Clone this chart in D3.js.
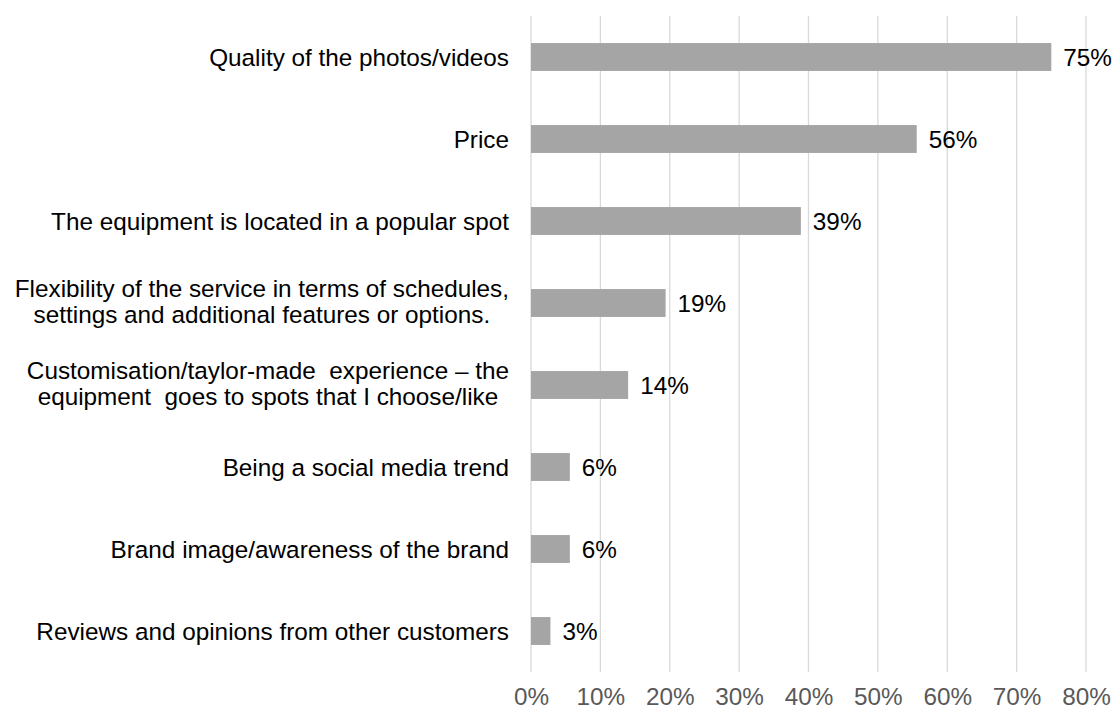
<!DOCTYPE html>
<html>
<head>
<meta charset="utf-8">
<script src="https://cdn.jsdelivr.net/npm/d3@7"></script>
<style>
  body { margin: 0; background: #fff; }
  text { font-family: "Liberation Sans", Arial, sans-serif; }
</style>
</head>
<body>
<script>
// categories, top to bottom (multi-line labels split by \n)
const categories = [
  'Quality of the photos/videos',
  'Price',
  'The equipment is located in a popular spot',
  'Flexibility of the service in terms of schedules,\nsettings and additional features or options.',
  'Customisation/taylor-made  experience \u2013 the\nequipment  goes to spots that I choose/like',
  'Being a social media trend',
  'Brand image/awareness of the brand',
  'Reviews and opinions from other customers'
];
// bar lengths (%)
const values = [75, 55.6, 38.9, 19.4, 14, 5.6, 5.6, 2.8];
// printed labels
const valueLabels = ['75%', '56%', '39%', '19%', '14%', '6%', '6%', '3%'];
const ticks = [0, 10, 20, 30, 40, 50, 60, 70, 80];

const width = 1114;
const height = 711;
const margin = ({top: 16, right: 28, bottom: 39, left: 531});
const fontSize = 24.3;

const xScale = d3.scaleLinear()
  .domain([0, 80])
  .range([margin.left, width - margin.right]);

const yScale = d3.scaleBand()
  .domain(categories)
  .range([margin.top, height - margin.bottom])
  .paddingInner(0.66)
  .paddingOuter(0.33);

const svg = d3.select('body')
  .append('svg')
  .attr('width', width)
  .attr('height', height);

// gridlines
svg.append('g')
  .selectAll('line')
  .data(ticks)
  .join('line')
  .attr('x1', d => xScale(d))
  .attr('x2', d => xScale(d))
  .attr('y1', margin.top)
  .attr('y2', height - margin.bottom)
  .attr('stroke', '#d9d9d9')
  .attr('stroke-width', 1.3);

// bars
svg.append('g')
  .selectAll('rect')
  .data(values)
  .join('rect')
  .attr('x', xScale(0))
  .attr('y', (d, i) => yScale(categories[i]))
  .attr('width', d => xScale(d) - xScale(0))
  .attr('height', yScale.bandwidth())
  .attr('fill', '#a5a5a5');

// value labels
svg.append('g')
  .selectAll('text')
  .data(values)
  .join('text')
  .attr('x', d => xScale(d) + 12)
  .attr('y', (d, i) => yScale(categories[i]) + yScale.bandwidth() / 2)
  .attr('dy', '0.35em')
  .attr('font-size', fontSize)
  .attr('fill', '#000')
  .text((d, i) => valueLabels[i]);

// x axis tick labels
const xAxis = d3.axisBottom(xScale)
  .tickValues(ticks)
  .tickSize(0)
  .tickPadding(16)
  .tickFormat(d => d + '%');

svg.append('g')
  .attr('transform', `translate(0,${height - margin.bottom})`)
  .call(xAxis)
  .call(g => g.select('.domain').remove())
  .selectAll('text')
  .attr('font-family', '"Liberation Sans", Arial, sans-serif')
  .attr('font-size', fontSize)
  .attr('fill', '#595959');

// category labels: block right-aligned, lines centred inside the block
const labelRight = margin.left - 22;
const lineGap = 26;
categories.forEach(function(c) {
  const lines = c.split('\n');
  const cy = yScale(c) + yScale.bandwidth() / 2 - (lines.length > 1 ? 2 : 0);
  const t = svg.append('text')
    .attr('font-size', fontSize)
    .attr('fill', '#000');
  lines.forEach(function(l, j) {
    t.append('tspan')
      .attr('y', cy + (j - (lines.length - 1) / 2) * lineGap)
      .attr('dy', '0.35em')
      .style('white-space', 'pre')
      .text(l);
  });
  // measure widest line, then centre all lines on the block's middle
  let maxW = 0;
  t.selectAll('tspan').each(function() {
    maxW = Math.max(maxW, this.getComputedTextLength());
  });
  t.attr('text-anchor', lines.length > 1 ? 'middle' : 'end');
  t.selectAll('tspan')
   .attr('x', lines.length > 1 ? labelRight - maxW / 2 : labelRight);
});
</script>
</body>
</html>
